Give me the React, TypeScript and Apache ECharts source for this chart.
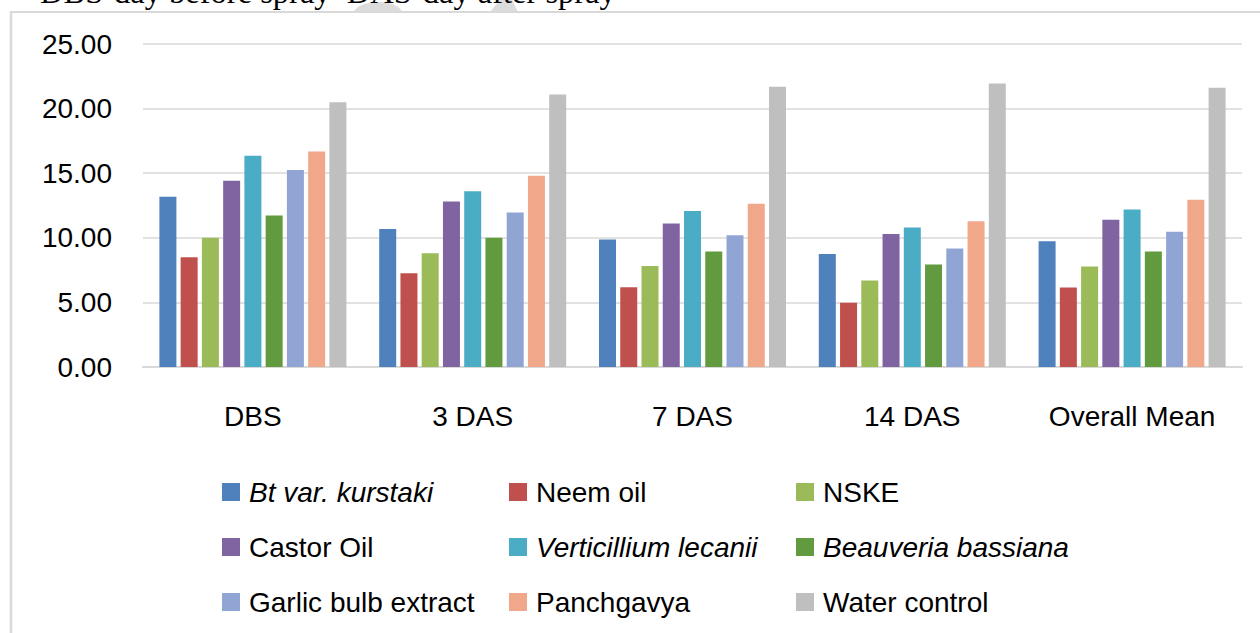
import React, { useEffect, useRef } from "react";
import * as echarts from "echarts";

const categories = ["DBS", "3 DAS", "7 DAS", "14 DAS", "Overall Mean"];
const treatments = [
  "Bt var. kurstaki",
  "Neem oil",
  "NSKE",
  "Castor Oil",
  "Verticillium lecanii",
  "Beauveria bassiana",
  "Garlic bulb extract",
  "Panchgavya",
  "Water control",
];
const italicNames = ["Bt var. kurstaki", "Verticillium lecanii", "Beauveria bassiana"];
const colors = [
  "#4F81BD",
  "#C0504D",
  "#9BBB59",
  "#8064A2",
  "#4BACC6",
  "#629A3F",
  "#91A5D4",
  "#F1A78A",
  "#BFBFBF",
];
const btValues = [13.17, 10.69, 9.86, 8.75, 9.73];
const neemValues = [8.5, 7.26, 6.17, 4.98, 6.15];
const nskeValues = [10.0, 8.81, 7.82, 6.69, 7.77];
const castorValues = [14.41, 12.81, 11.1, 10.3, 11.39];
const verticilliumValues = [16.35, 13.61, 12.08, 10.79, 12.19];
const beauveriaValues = [11.73, 10.0, 8.93, 7.93, 8.93];
const garlicValues = [15.24, 11.96, 10.2, 9.17, 10.46];
const panchgavyaValues = [16.68, 14.8, 12.63, 11.28, 12.94];
const waterValues = [20.5, 21.1, 21.69, 21.95, 21.61];
const seriesValues = [
  btValues,
  neemValues,
  nskeValues,
  castorValues,
  verticilliumValues,
  beauveriaValues,
  garlicValues,
  panchgavyaValues,
  waterValues,
];
const legendColumns = [
  ["Bt var. kurstaki", "Castor Oil", "Garlic bulb extract"],
  ["Neem oil", "Verticillium lecanii", "Panchgavya"],
  ["NSKE", "Beauveria bassiana", "Water control"],
];
const legendLefts = [222, 509, 796];
const headerText = "DBS-day before spray  DAS-day after spray";

const FONT = "'Liberation Sans', Arial, sans-serif";

export default function App() {
  const ref = useRef<HTMLDivElement>(null);
  useEffect(() => {
    if (!ref.current) return;
    const chart = echarts.init(ref.current, null, { renderer: "svg" });
    const option: any = {
      animation: false,
      backgroundColor: "#ffffff",
      grid: { left: 143, right: 18, top: 44, bottom: 266, containLabel: false },
      xAxis: {
        type: "category",
        data: categories,
        axisTick: { show: false },
        axisLine: { lineStyle: { color: "#d9d9d9", width: 2 } },
        axisLabel: { fontSize: 28, color: "#000", fontFamily: FONT, margin: 35 },
      },
      yAxis: {
        type: "value",
        min: 0,
        max: 25,
        interval: 5,
        axisLine: { show: false },
        axisTick: { show: false },
        splitLine: { lineStyle: { color: "#d9d9d9", width: 1.5 } },
        axisLabel: {
          fontSize: 28,
          color: "#000",
          fontFamily: FONT,
          margin: 31,
          formatter: (v: number) => v.toFixed(2),
        },
      },
      legend: legendColumns.map((col, i) => ({
        orient: "vertical",
        left: legendLefts[i],
        top: 478,
        padding: 0,
        itemWidth: 18,
        itemHeight: 18,
        itemGap: 27,
        icon: "rect",
        textStyle: {
          fontSize: 28,
          lineHeight: 28,
          color: "#000",
          fontFamily: FONT,
          padding: [0, 0, 0, 4],
        },
        data: col.map((name) => ({
          name,
          textStyle: italicNames.includes(name) ? { fontStyle: "italic" } : {},
        })),
      })),
      series: treatments.map((name, i) => ({
        name,
        type: "bar",
        data: seriesValues[i],
        barWidth: 17,
        barGap: "25%",
        itemStyle: { color: colors[i] },
      })),
      graphic: [
        {
          type: "polygon",
          silent: true,
          shape: {
            points: [
              [353, 12],
              [358, 7],
              [364, 4],
              [371, 2.5],
              [378, 2],
              [385, 2.5],
              [392, 4],
              [398, 7],
              [403, 12],
            ],
          },
          style: { fill: "#dcdcdc" },
        },
        {
          type: "polygon",
          silent: true,
          shape: { points: [[490, 12], [500, 0], [512, 0], [518, 12]] },
          style: { fill: "#dcdcdc" },
        },
        {
          type: "text",
          left: 40,
          top: -25,
          style: {
            text: headerText,
            fontSize: 32.5,
            fontFamily: "'Liberation Serif', 'Times New Roman', serif",
            fill: "#000",
          },
        },
        {
          type: "line",
          silent: true,
          shape: { x1: 10, y1: 12, x2: 1260, y2: 12 },
          style: { stroke: "#d9d9d9", lineWidth: 2 },
        },
        {
          type: "line",
          silent: true,
          shape: { x1: 11, y1: 12, x2: 11, y2: 633 },
          style: { stroke: "#d9d9d9", lineWidth: 2.5 },
        },
      ],
    };
    chart.setOption(option);
    return () => chart.dispose();
  }, []);
  return (
    <div
      ref={ref}
      style={{ position: "fixed", left: 0, top: 0, width: 1260, height: 633 }}
    />
  );
}
